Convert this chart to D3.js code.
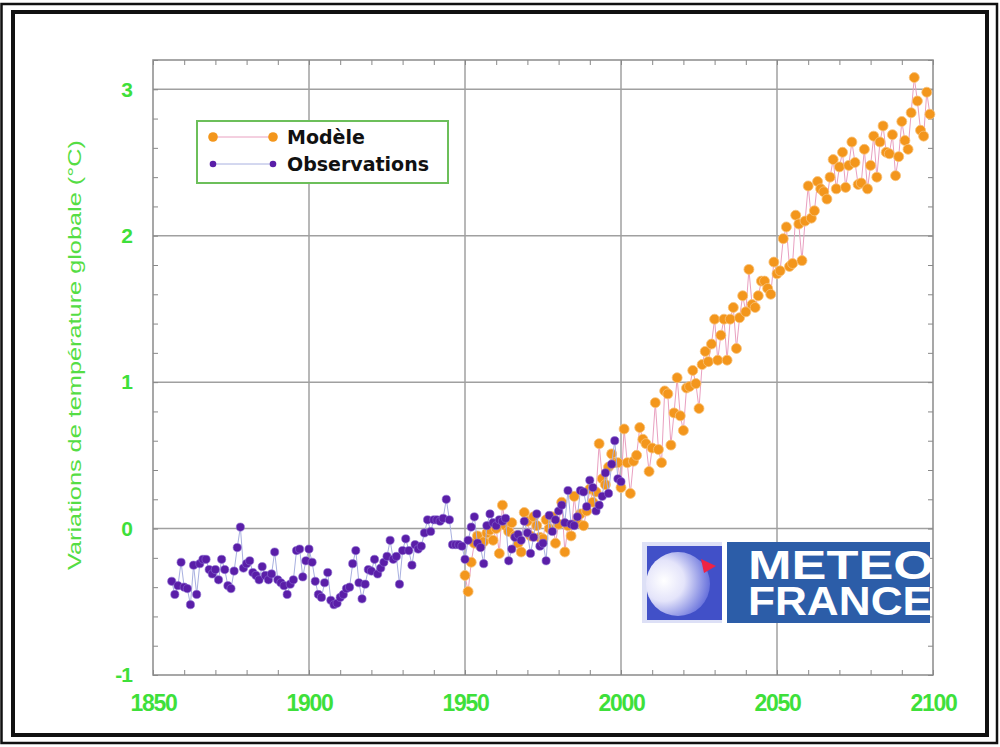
<!DOCTYPE html>
<head>
<meta charset="utf-8">
<script src="https://cdn.jsdelivr.net/npm/d3@7"></script>
<style>
  *{ margin:0; padding:0; }
  body{ background:#fff; font-family: Arial, "Liberation Sans", sans-serif; }
  svg{ display:block; }
</style>
</head>
<body>
<svg id="chart" width="1000" height="747"></svg>
<script>
// ---- data ----
const obsStart = 1856;
const obsValues = [
  -0.36,-0.45,-0.39,-0.23,-0.40,-0.41,-0.52,-0.25,-0.45,-0.24,  // 1856-1865
  -0.21,-0.21,-0.28,-0.31,-0.28,-0.35,-0.21,-0.28,-0.39,-0.41,  // 1866-1875
  -0.29,-0.13, 0.01,-0.27,-0.24,-0.22,-0.30,-0.32,-0.35,-0.26,  // 1876-1885
  -0.32,-0.35,-0.31,-0.16,-0.35,-0.37,-0.39,-0.45,-0.38,-0.35,  // 1886-1895
  -0.15,-0.14,-0.33,-0.22,-0.14,-0.23,-0.36,-0.45,-0.47,-0.37,  // 1896-1905
  -0.30,-0.49,-0.52,-0.51,-0.47,-0.45,-0.41,-0.40,-0.24,-0.15,  // 1906-1915
  -0.37,-0.48,-0.38,-0.28,-0.29,-0.21,-0.31,-0.27,-0.23,-0.19,  // 1916-1925
  -0.08,-0.21,-0.19,-0.38,-0.15,-0.07,-0.15,-0.25,-0.11,-0.14,  // 1926-1935
  -0.12,-0.03, 0.06,-0.02, 0.06, 0.06, 0.05, 0.07, 0.20, 0.06,  // 1936-1945
  -0.11,-0.11,-0.11,-0.12,-0.21,-0.08, 0.01, 0.08,-0.10,-0.13,  // 1946-1955
  -0.24, 0.02, 0.10, 0.04, 0.02, 0.06, 0.05, 0.07,-0.22,-0.14,  // 1956-1965
  -0.06,-0.04,-0.08, 0.05,-0.03,-0.17,-0.06, 0.10,-0.12,-0.10,  // 1966-1975
  -0.22, 0.09,-0.02, 0.06, 0.12, 0.16, 0.04, 0.26, 0.03, 0.02,  // 1976-1985
   0.08, 0.26, 0.25, 0.15, 0.33, 0.28, 0.12, 0.16, 0.22, 0.38,  // 1986-1995
   0.24, 0.44, 0.60, 0.34, 0.32                                 // 1996-2000
];

const modelStart = 1950;
const modelValues = [
  -0.32,-0.43,-0.23,-0.10,-0.05,-0.12,-0.09,-0.03,-0.01,-0.08,  // 1950-1959
   0.00,-0.17, 0.16, 0.02,-0.02, 0.04,-0.05,-0.10,-0.16, 0.11,  // 1960-1969
   0.05,-0.05, 0.08, 0.02,-0.06,-0.07, 0.06, 0.00, 0.08,-0.10,  // 1970-1979
   0.03, 0.18,-0.16, 0.02,-0.05, 0.22, 0.04, 0.10, 0.02, 0.12,  // 1980-1989
   0.27, 0.18, 0.25, 0.58, 0.34, 0.30, 0.42, 0.51, 0.45, 0.45,  // 1990-1999
   0.28, 0.68, 0.45, 0.24, 0.46, 0.50, 0.69, 0.61, 0.58, 0.39,  // 2000-2009
   0.55, 0.86, 0.54, 0.45, 0.94, 0.92, 0.57, 0.79, 1.03, 0.77,  // 2010-2019
   0.67, 0.96, 0.97, 1.08, 0.99, 0.82, 1.12, 1.21, 1.14, 1.26,  // 2020-2029
   1.43, 1.15, 1.32, 1.43, 1.15, 1.43, 1.51, 1.23, 1.44, 1.59,  // 2030-2039
   1.48, 1.77, 1.53, 1.51, 1.59, 1.69, 1.69, 1.64, 1.60, 1.82,  // 2040-2049
   1.74, 1.76, 1.98, 2.06, 1.79, 1.81, 2.14, 2.08, 1.83, 2.10,  // 2050-2059
   2.34, 2.12, 2.17, 2.37, 2.32, 2.30, 2.25, 2.40, 2.52, 2.32,  // 2060-2069
   2.47, 2.57, 2.33, 2.48, 2.64, 2.50, 2.35, 2.36, 2.59, 2.32,  // 2070-2079
   2.48, 2.68, 2.40, 2.64, 2.75, 2.57, 2.56, 2.69, 2.41, 2.54,  // 2080-2089
   2.78, 2.65, 2.59, 2.84, 3.08, 2.92, 2.72, 2.68, 2.98, 2.83   // 2090-2099
];

const xTicks = [1850, 1900, 1950, 2000, 2050, 2100];
const yTicks = [-1, 0, 1, 2, 3];
const seriesNames = ["Modèle", "Observations"];
const yTitle = "Variations de température globale  (°C)";

// ---- setup ----
const svg = d3.select("#chart");
const plotL = 153, plotR = 933, plotT = 60, plotB = 675;

const x = d3.scaleLinear().domain([1850, 2100]).range([plotL, plotR]);
const y = d3.scaleLinear().domain([-1, 3.2]).range([plotB, plotT]);

const obs = obsValues.map((v, i) => ({year: obsStart + i, v: v}));
const model = modelValues.map((v, i) => ({year: modelStart + i, v: v}));

const green = "#3ee03a";
const orange = "#f3961c";
const purple = "#5a1ea8";
const orangeLine = "#e9a0c0";
const purpleLine = "#a8b0e0";

// outer double frame
svg.append("rect").attr("x", 1.5).attr("y", 4).attr("width", 995.5).attr("height", 739)
  .attr("fill", "none").attr("stroke", "#111").attr("stroke-width", 2.5);
svg.append("rect").attr("x", 13).attr("y", 12).attr("width", 974).attr("height", 723)
  .attr("fill", "none").attr("stroke", "#111").attr("stroke-width", 4);

// grid
svg.append("g").selectAll("line").data(xTicks.slice(1, -1)).join("line")
  .attr("x1", d => x(d)).attr("x2", d => x(d)).attr("y1", plotT).attr("y2", plotB)
  .attr("stroke", "#a0a0a0").attr("stroke-width", 1.5);
svg.append("g").selectAll("line").data(yTicks.slice(1)).join("line")
  .attr("x1", plotL).attr("x2", plotR).attr("y1", d => y(d)).attr("y2", d => y(d))
  .attr("stroke", "#a0a0a0").attr("stroke-width", 1.5);

// minor ticks, inward on all four sides
const minorX = d3.range(1850, 2101, 10);
const minorY = d3.range(-1, 3.21, 0.2);
const tickStyle = g => {
  g.select(".domain").remove();
  g.selectAll("line").attr("stroke", "#888").attr("stroke-width", 1);
};
svg.append("g").attr("transform", `translate(0,${plotB})`)
  .call(d3.axisBottom(x).tickValues(minorX).tickSize(-5).tickFormat("")).call(tickStyle);
svg.append("g").attr("transform", `translate(0,${plotT})`)
  .call(d3.axisTop(x).tickValues(minorX).tickSize(-5).tickFormat("")).call(tickStyle);
svg.append("g").attr("transform", `translate(${plotL},0)`)
  .call(d3.axisLeft(y).tickValues(minorY).tickSize(-5).tickFormat("")).call(tickStyle);
svg.append("g").attr("transform", `translate(${plotR},0)`)
  .call(d3.axisRight(y).tickValues(minorY).tickSize(-5).tickFormat("")).call(tickStyle);

// plot frame
svg.append("rect").attr("x", plotL).attr("y", plotT)
  .attr("width", plotR - plotL).attr("height", plotB - plotT)
  .attr("fill", "none").attr("stroke", "#8a8a8a").attr("stroke-width", 1.5);

// tick labels
const xAxis = svg.append("g").attr("transform", `translate(0,${plotB})`)
  .call(d3.axisBottom(x).tickValues(xTicks).tickSize(0).tickPadding(20).tickFormat(d => String(d)));
xAxis.select(".domain").remove();
xAxis.selectAll("text").attr("fill", green).attr("font-size", 23).attr("font-weight", "bold")
  .attr("font-family", "Arial, 'Liberation Sans', sans-serif").attr("letter-spacing", -1.3)
  .attr("dy", "0.68em");

const yAxis = svg.append("g").attr("transform", `translate(${plotL},0)`)
  .call(d3.axisLeft(y).tickValues(yTicks).tickSize(0).tickPadding(21).tickFormat(d => String(d)));
yAxis.select(".domain").remove();
yAxis.selectAll("text").attr("fill", green).attr("font-size", 21).attr("font-weight", "bold")
  .attr("font-family", "Arial, 'Liberation Sans', sans-serif").attr("letter-spacing", -1);

// y title
svg.append("text")
  .attr("transform", "translate(81,355) rotate(-90)")
  .attr("text-anchor", "middle")
  .attr("fill", "#55dd44")
  .attr("font-size", 19)
  .attr("textLength", 430).attr("lengthAdjust", "spacingAndGlyphs")
  .text(yTitle);

// series
const line = d3.line().x(d => x(d.year)).y(d => y(d.v));

svg.append("path").datum(model).attr("d", line)
  .attr("fill", "none").attr("stroke", orangeLine).attr("stroke-width", 1);
svg.append("g").selectAll("circle").data(model).join("circle")
  .attr("cx", d => x(d.year)).attr("cy", d => y(d.v)).attr("r", 5)
  .attr("fill", orange).attr("stroke", "#f8c27a").attr("stroke-width", 0.8);

svg.append("path").datum(obs).attr("d", line)
  .attr("fill", "none").attr("stroke", purpleLine).attr("stroke-width", 1);
svg.append("g").selectAll("circle").data(obs).join("circle")
  .attr("cx", d => x(d.year)).attr("cy", d => y(d.v)).attr("r", 4.1)
  .attr("fill", purple).attr("stroke", "#8a6ad0").attr("stroke-width", 0.6);

// legend
const legend = svg.append("g");
legend.append("rect").attr("x", 197).attr("y", 121).attr("width", 251).attr("height", 62)
  .attr("fill", "#fff").attr("stroke", "#6cbf5a").attr("stroke-width", 2);
const legendRows = [
  {name: seriesNames[0], y: 137, fill: orange, line: orangeLine, r: 4.8},
  {name: seriesNames[1], y: 164, fill: purple, line: purpleLine, r: 3.3}
];
legendRows.forEach(row => {
  legend.append("line").attr("x1", 213).attr("x2", 273).attr("y1", row.y).attr("y2", row.y)
    .attr("stroke", row.line).attr("stroke-width", 1);
  [213, 273].forEach(cx => legend.append("circle").attr("cx", cx).attr("cy", row.y)
    .attr("r", row.r).attr("fill", row.fill));
  legend.append("text").attr("x", 287).attr("y", row.y).attr("dy", "0.36em")
    .attr("font-size", 19).attr("font-weight", "bold").attr("fill", "#111")
    .attr("font-family", "'DejaVu Sans', Verdana, sans-serif")
    .text(row.name);
});

// METEO FRANCE logo
const defs = svg.append("defs");
const grad = defs.append("radialGradient").attr("id", "globe")
  .attr("cx", "28%").attr("cy", "45%").attr("r", "80%");
grad.append("stop").attr("offset", "0%").attr("stop-color", "#ffffff");
grad.append("stop").attr("offset", "40%").attr("stop-color", "#e4e4fa");
grad.append("stop").attr("offset", "100%").attr("stop-color", "#4e5ad6");
defs.append("clipPath").attr("id", "logoClip")
  .append("rect").attr("x", 642).attr("y", 542).attr("width", 288).attr("height", 81);

const lg = svg.append("g").attr("clip-path", "url(#logoClip)");
lg.append("rect").attr("x", 642).attr("y", 542).attr("width", 81).attr("height", 81).attr("fill", "#dde0f6");
lg.append("rect").attr("x", 647).attr("y", 546).attr("width", 75).attr("height", 74).attr("fill", "#4150c8");
lg.append("circle").attr("cx", 678).attr("cy", 584).attr("r", 32).attr("fill", "url(#globe)");
lg.append("path").attr("d", "M701,559 L716,566 L704,573 Z").attr("fill", "#ee2244");
lg.append("rect").attr("x", 722).attr("y", 542).attr("width", 5).attr("height", 81).attr("fill", "#fff");
lg.append("rect").attr("x", 727).attr("y", 542).attr("width", 203).attr("height", 81).attr("fill", "#2c5da8");
// both logo words in one text block, one line each
const logoText = lg.append("text").attr("font-size", 41).attr("font-weight", "bold").attr("fill", "#fff");
logoText.append("tspan").attr("x", 748).attr("y", 579)
  .attr("textLength", 186).attr("lengthAdjust", "spacingAndGlyphs").text("METEO");
logoText.append("tspan").attr("x", 748).attr("y", 615)
  .attr("textLength", 184).attr("lengthAdjust", "spacingAndGlyphs").text("FRANCE");
</script>
</body>
